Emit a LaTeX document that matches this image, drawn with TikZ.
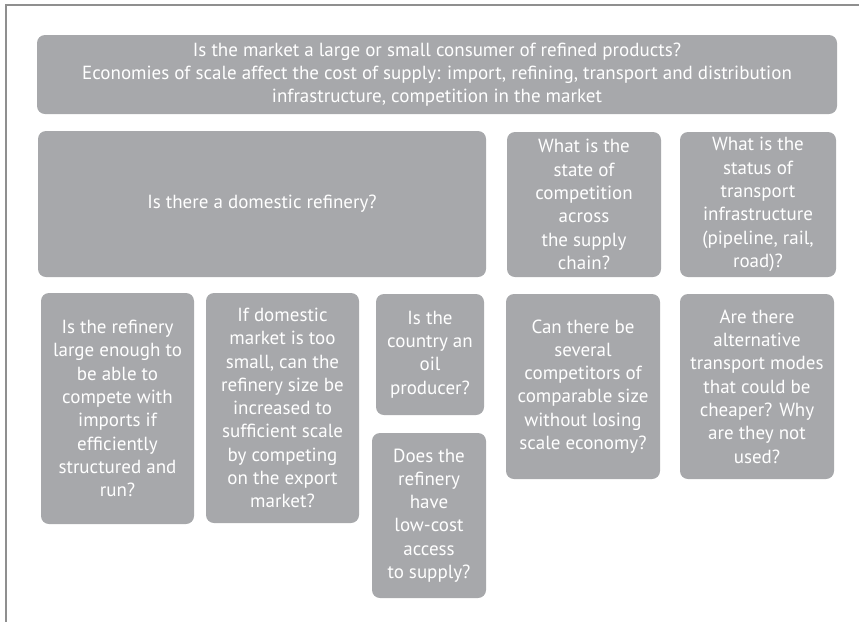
\documentclass[tikz,border=0pt]{standalone}
\usepackage{fontspec}
\setmainfont{PT Sans}
\definecolor{boxgray}{HTML}{A7A8AB}
\definecolor{framegray}{HTML}{8F8F8F}
\begin{document}
\begin{tikzpicture}[x=1pt,y=-1pt,
  qbox/.style={fill=boxgray, rounded corners=8pt, inner sep=0pt, text=white,
    align=center, font=\fontsize{19}{23.3}\selectfont, anchor=center},
]
\useasboundingbox (0,0) rectangle (859,622);
\coordinate (f1) at (859,5);
\coordinate (f2) at (6,5);
\coordinate (f3) at (6,622);
\draw[framegray, line width=2pt] (f1) -- (f2) -- (f3);

\node[qbox, minimum width=800pt, minimum height=79pt] (top) at (437,74.5)
  {Is the market a large or small consumer of refined products?\\
   Economies of scale affect the cost of supply: import, refining, transport and distribution\\
   infrastructure, competition in the market};
\node[qbox, minimum width=448pt, minimum height=146pt] (dom) at (262,204)
  {Is there a domestic refinery?};
\node[qbox, minimum width=154pt, minimum height=145pt] (comp) at (584,204.5)
  {What is the\\state of\\competition\\across\\the supply\\chain?};
\node[qbox, minimum width=156pt, minimum height=145pt] (trans) at (758,204.5)
  {What is the\\status of\\transport\\infrastructure\\(pipeline, rail,\\road)?};
\node[qbox, minimum width=153pt, minimum height=231pt] (b1) at (117.5,408.5)
  {Is the refinery\\large enough to\\be able to\\compete with\\imports if\\efficiently\\structured and\\run?};
\node[qbox, minimum width=153pt, minimum height=230pt] (b2) at (282.5,408)
  {If domestic\\market is too\\small, can the\\refinery size be\\increased to\\sufficient scale\\by competing\\on the export\\market?};
\node[qbox, minimum width=108pt, minimum height=121pt] (b3) at (430,354.5)
  {Is the\\country an\\oil\\producer?};
\node[qbox, minimum width=114pt, minimum height=165pt] (b4) at (429,515.5)
  {Does the\\refinery\\have\\low-cost\\access\\to supply?};
\node[qbox, minimum width=154pt, minimum height=185pt] (b5) at (583,386.5)
  {Can there be\\several\\competitors of\\comparable size\\without losing\\scale economy?};
\node[qbox, minimum width=154pt, minimum height=185pt] (b6) at (757,386.5)
  {Are there\\alternative\\transport modes\\that could be\\cheaper? Why\\are they not\\used?};
\end{tikzpicture}
\end{document}
